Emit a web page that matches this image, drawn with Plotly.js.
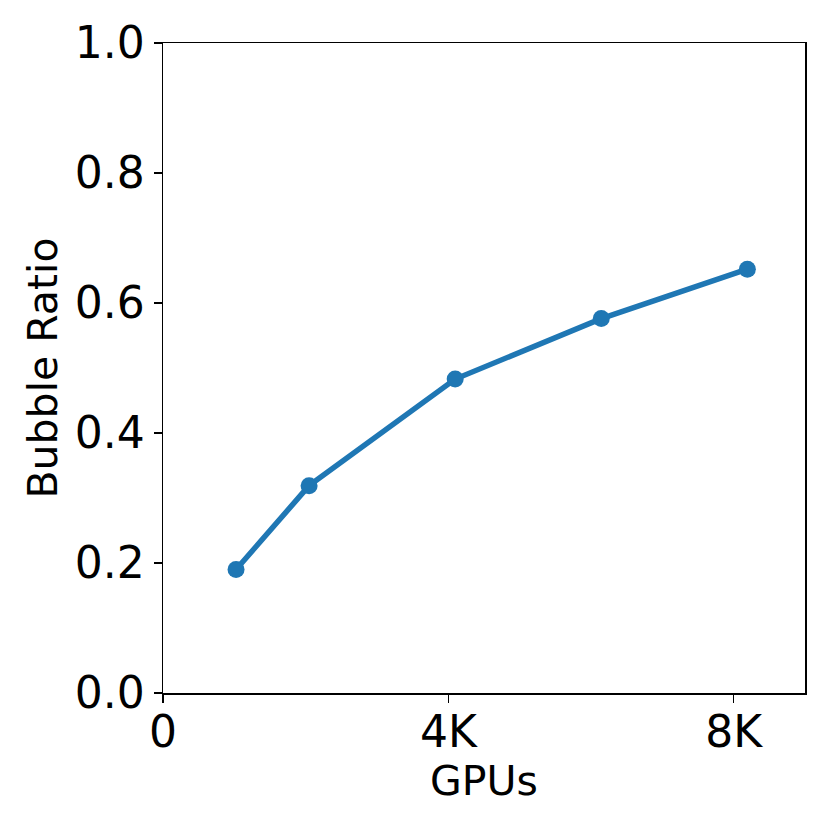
<!DOCTYPE html>
<html>
<head>
<meta charset="utf-8">
<script src="https://cdn.plot.ly/plotly-3.0.1.min.js"></script>
<style>
  html, body { margin: 0; padding: 0; background: #fff; }
  #plot { width: 830px; height: 830px; }
</style>
</head>
<body>
<div id="plot"></div>
<script>
// GPU counts and bubble ratio
var gpus = [1024, 2048, 4096, 6144, 8192];
var bubbleRatio = [0.19, 0.319, 0.483, 0.576, 0.652];

var xTickVals = [0, 4000, 8000];
var xTickText = ["0", "4K", "8K"];
var yTickVals = [0, 0.2, 0.4, 0.6, 0.8, 1.0];

var trace = {
  x: gpus,
  y: bubbleRatio,
  type: "scatter",
  mode: "lines+markers",
  line: {color: "#1f77b4", width: 5.5},
  marker: {color: "#1f77b4", size: 17},
  cliponaxis: false
};

var axisCommon = {
  showgrid: false,
  zeroline: false,
  showline: true,
  linecolor: "#000",
  linewidth: 1.5,
  mirror: true,
  ticks: "outside",
  ticklen: 8,
  tickwidth: 1.5,
  tickcolor: "#000",
  tickfont: {family: "DejaVu Sans", size: 44, color: "#000"}
};

var layout = {
  width: 830,
  height: 830,
  margin: {l: 163, r: 25, t: 43, b: 137},
  paper_bgcolor: "#fff",
  plot_bgcolor: "#fff",
  showlegend: false,
  xaxis: Object.assign({}, axisCommon, {
    range: [0, 9000],
    tickvals: xTickVals,
    ticktext: xTickText,
    ticklabelstandoff: -8,
    title: {text: "GPUs", font: {family: "DejaVu Sans", size: 41, color: "#000"}, standoff: 4}
  }),
  yaxis: Object.assign({}, axisCommon, {
    range: [0, 1],
    tickvals: yTickVals,
    tickformat: ".1f",
    title: {text: "Bubble Ratio", font: {family: "DejaVu Sans", size: 41, color: "#000"}, standoff: 4}
  })
};

Plotly.newPlot("plot", [trace], layout, {displayModeBar: false, staticPlot: true});
</script>
</body>
</html>
